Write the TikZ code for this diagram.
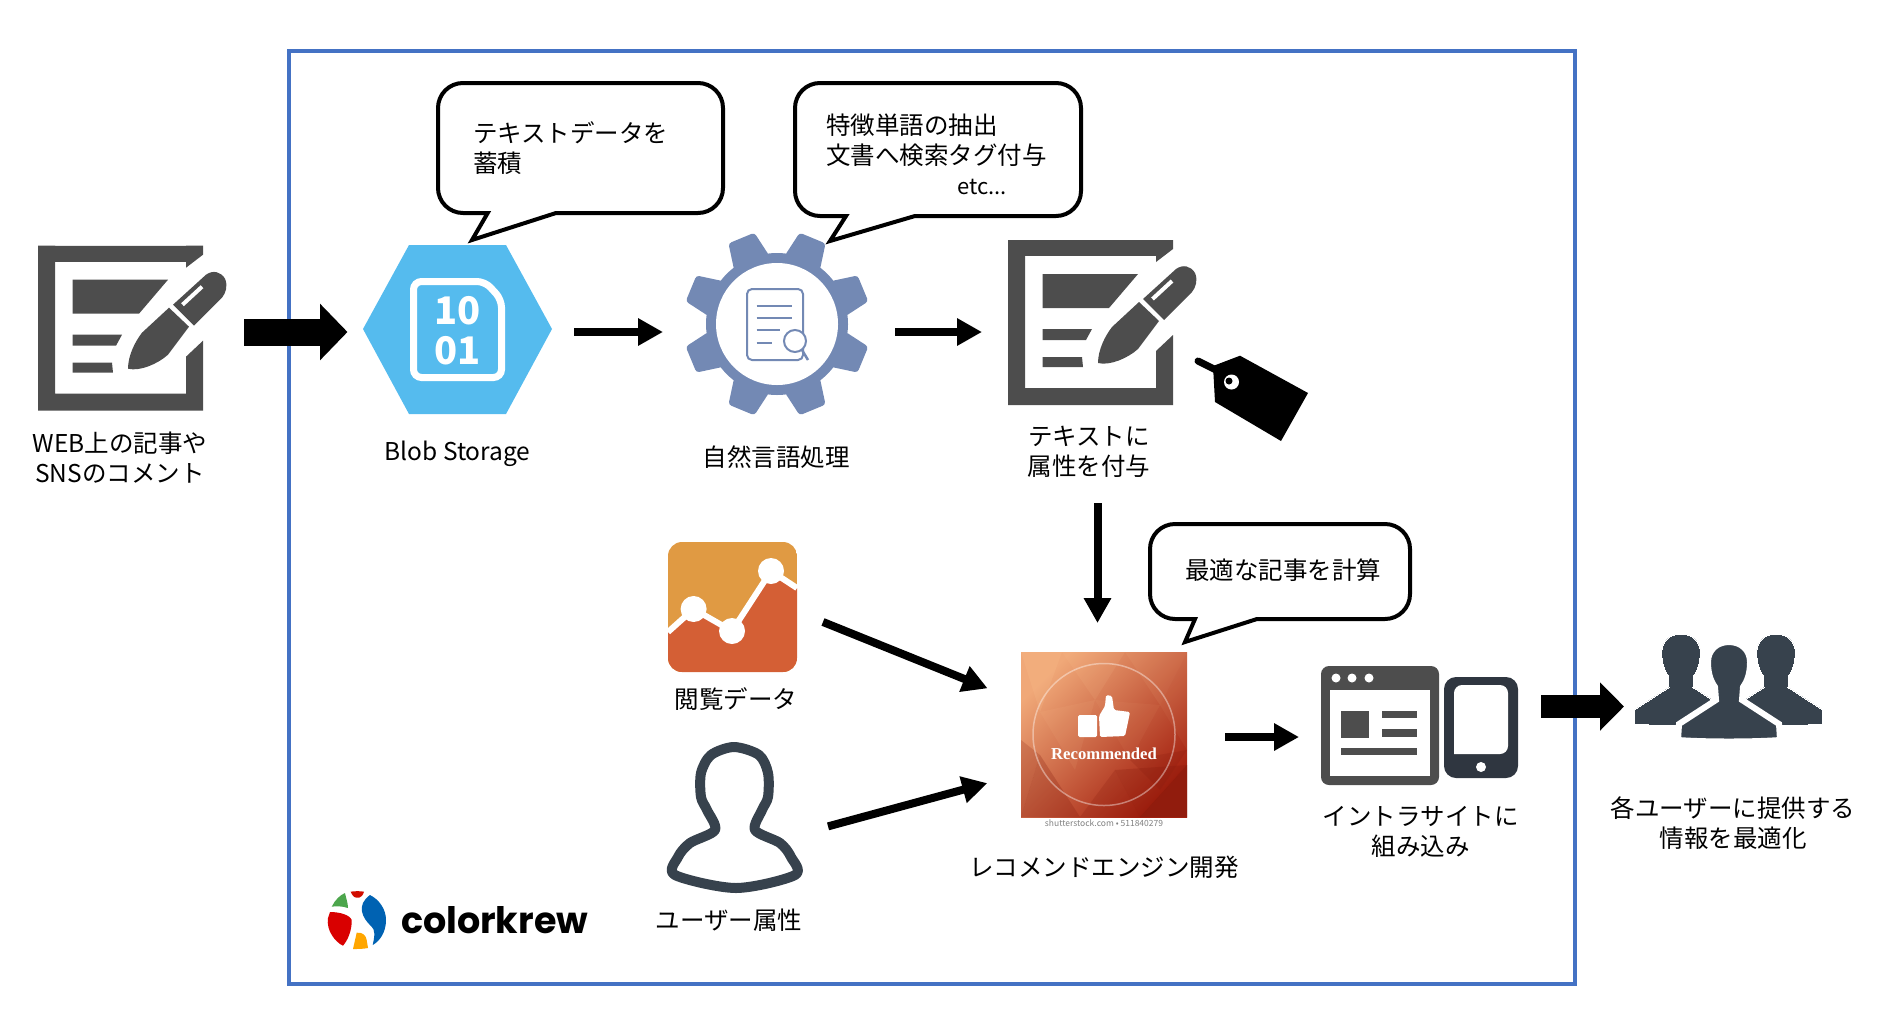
\documentclass[tikz,border=0pt]{standalone}
\usepackage{fontspec}
\setmainfont{Noto Sans CJK JP}
\newfontfamily\logofont{Poppins}
\newfontfamily\photofont{Liberation Serif}
\usetikzlibrary{arrows.meta}

\definecolor{frameblue}{HTML}{4472C4}
\definecolor{icongray}{HTML}{4D4D4D}
\definecolor{hexblue}{HTML}{55BBEE}
\definecolor{gearblue}{HTML}{7389B4}
\definecolor{gaorange}{HTML}{E09A43}
\definecolor{gared}{HTML}{D45F35}
\definecolor{slate}{HTML}{37424D}
\definecolor{phonegray}{HTML}{2F3640}
\definecolor{photolight}{HTML}{F0A878}
\definecolor{photomid}{HTML}{E0623C}
\definecolor{photodark}{HTML}{A4200F}

\tikzset{
noteicon/.pic={
	\fill[icongray] (0,0) -- (165,0) -- (165,9) -- (148,22) -- (148,0) -- (17,0) -- (17,148) -- (148,148) -- (148,111) -- (165,95) -- (165,165) -- (0,165) -- cycle;
	\fill[icongray] (17,0) rectangle (148,16);
	\fill[icongray] (34.5,34) -- (130,34) -- (101,68) -- (34.5,68) -- cycle;
	\fill[icongray] (34.5,89) -- (84,89) -- (78,100) -- (34.5,100) -- cycle;
	\fill[icongray] (34.5,117) -- (74,117) -- (75,127) -- (34.5,127) -- cycle;
	\fill[icongray] (90,123) .. controls (90,110) and (97,96) .. (104,87) -- (131,62) -- (151,81) -- (130,109) .. controls (120,118) and (102,126) .. (90,123) -- cycle;
	\fill[icongray] (135,59) -- (168,29) .. controls (175,24) and (183,26) .. (187,33) .. controls (190,40) and (188,47) .. (184,52) -- (156,80) -- cycle;
	\draw[white,line width=4] (144.5,59) -- (164,41);
},
person/.pic={
	\filldraw[slate,draw=white,line width=#1] (-51,98) -- (-50,82) -- (-13,58) -- (-14,45) .. controls (-19,38) and (-21,30) .. (-21,20) .. controls (-21,8) and (-12,0) .. (0,0) .. controls (12,0) and (21,8) .. (21,20) .. controls (21,30) and (19,38) .. (14,45) -- (13,58) -- (50,82) -- (51,98) .. controls (25,100) and (-25,100) .. cycle;
}
}

\begin{document}
\begin{tikzpicture}[x=1pt,y=-1pt]

\tikzstyle{lab} = [font=\fontsize{24.5}{30}\selectfont, align=center, inner sep=0pt]
\tikzstyle{box} = [inner sep=0pt, outer sep=0pt]
\tikzstyle{bub} = [draw, line width=4pt, fill=white, line join=miter]
\tikzstyle{arr} = [line width=8pt, -{Triangle[length=25pt,width=26pt]}]
\tikzstyle{barr} = [line width=27pt, -{Triangle[length=27.5pt,width=55pt]}]

\useasboundingbox (0,0) rectangle (1886,1034);

\node[box, draw=frameblue, line width=4pt, minimum width=1286pt, minimum height=933pt] (frame) at (932,517.5) {};

% place holders for the icons
\node[box, minimum width=188pt, minimum height=165pt] (note1) at (132,332) {};
\node[box, minimum width=189pt, minimum height=169pt] (blob) at (457.5,332) {};
\node[box, minimum width=180pt, minimum height=180pt] (gear) at (777,332) {};
\node[box, minimum width=179pt, minimum height=165pt] (note2) at (1097.5,322.5) {};
\node[box, minimum width=129pt, minimum height=130pt] (ga) at (732.5,607) {};
\node[box, minimum width=133pt, minimum height=150pt] (user) at (735,817) {};
\node[box, minimum width=166pt, minimum height=170pt] (reco) at (1104,737) {};
\node[box, minimum width=197pt, minimum height=119pt] (site) at (1419.5,706.5) {};
\node[box, minimum width=185pt, minimum height=106pt] (users) at (1728.5,706.5) {};

% writing icons and tag
\pic at (38,245.7) {noteicon};
\pic at (1008,240) {noteicon};
\fill (1213,366) -- (1240,355.7) -- (1308,393) -- (1281,441) -- (1215,402) -- cycle;
\draw[line width=7pt, line cap=round] (1198,361) -- (1216,370);
\fill[white] (1231.5,382) circle (7.5);
\fill (1229,381) circle (3.5);

% blob storage
\fill[hexblue] (363,329) -- (409,245) -- (506,245) -- (552,329) -- (506,414) -- (409,414) -- cycle;
\draw[white, line width=7pt, rounded corners=8] (413.5,281.5) -- (485,281.5) -- (501.5,299.5) -- (501.5,377.5) -- (413.5,377.5) -- cycle;
\node[box, text=white, font=\fontsize{38}{38}\selectfont\bfseries] (ten) at (457.5,311) {10};
\node[box, text=white, font=\fontsize{38}{38}\selectfont\bfseries] (one) at (457.5,351) {01};

% gear
\begin{scope}[shift={(777,324)}]
\foreach \a in {22.5,67.5,...,337.5}{
	\fill[gearblue, rotate=\a, rounded corners=3] (66,-19) -- (93,-14) -- (93,14) -- (66,19) -- cycle;
}
\fill[gearblue] (0,0) circle (71);
\fill[white] (0,0) circle (61);
\end{scope}
\draw[gearblue, line width=2pt, rounded corners=5] (747,289) rectangle (803,360);
\foreach \y/\e in {306/792,318/792,330/780,343/772}{
	\draw[gearblue, line width=2pt] (756.6,\y) -- (\e,\y);
}
\draw[gearblue, line width=2pt, fill=white] (795,341) circle (11);
\draw[gearblue, line width=2.5pt] (802,350) -- (808,360);

% analytics
\begin{scope}
\clip[rounded corners=14] (668,542) rectangle (797,672);
\fill[gaorange] (668,542) rectangle (797,672);
\fill[gared] (668,632) -- (693.6,609) -- (732,631) -- (771,571) -- (797,588) -- (797,672) -- (668,672) -- cycle;
\draw[white, line width=6pt] (668,632) -- (693.6,609) -- (732,631) -- (771,571) -- (797,588);
\foreach \p in {(693.6,609),(732,631),(771,571)}{
	\fill[white] \p circle (13);
}
\end{scope}

% user outline
\draw[slate, line width=10pt, line join=round] plot[smooth cycle, tension=0.5] coordinates {(675,875) (678,857) (690,843) (715,830) (707,810) (701,797) (701,773) (711,755) (734,747) (759,755) (768,773) (768,797) (762,810) (755,830) (780,843) (791,857) (795,875) (736,888)};

% recommended picture
\begin{scope}
\clip (1021,652) rectangle (1187,817);
\shade[top color=photolight, middle color=photomid, bottom color=photodark, shading angle=45] (1021,652) rectangle (1187,817);
\foreach \xa/\ya/\xb/\yb/\xc/\yc/\o in {1021/652/1062/652/1040/712/0.15, 1062/652/1125/652/1095/700/0.10, 1125/652/1187/652/1160/705/0.08, 1040/712/1095/700/1075/770/0.08, 1095/700/1160/705/1130/760/0.05, 1160/705/1187/652/1187/750/0.05}{
	\fill[orange!40!white, opacity=\o] (\xa,\ya) -- (\xb,\yb) -- (\xc,\yc) -- cycle;
}
\foreach \xa/\ya/\xb/\yb/\xc/\yc/\o in {1021/817/1080/817/1040/755/0.25, 1080/817/1140/817/1115/770/0.20, 1140/817/1187/817/1187/765/0.55, 1115/770/1187/765/1140/817/0.25, 1021/740/1040/755/1021/817/0.20, 1130/760/1187/750/1160/790/0.20}{
	\fill[photodark!80!black, opacity=\o] (\xa,\ya) -- (\xb,\yb) -- (\xc,\yc) -- cycle;
}
\end{scope}
\draw[white, opacity=0.4, line width=1.5pt] (1104,734.5) circle (71);
\fill[white, rounded corners=1.5] (1078,715) rectangle (1097,737);
\fill[white, rounded corners=1.5] (1099,716) -- (1105,706) -- (1106,695) -- (1112,696) -- (1114,710) -- (1130,712) -- (1128,722) -- (1125,736) -- (1100,737) -- cycle;
\node[box, text=white, font=\photofont\fontsize{16.7}{17}\selectfont\bfseries] (recotext) at (1104,754) {Recommended};
\node[box, text=gray, font=\fontsize{8.5}{9}\selectfont] (stock) at (1104,823) {shutterstock.com • 511840279};

% browser and phone
\fill[icongray, rounded corners=8] (1321,666) rectangle (1439,785);
\fill[white] (1330,690) rectangle (1430,776);
\foreach \x in {1336,1352,1369}{
	\fill[white] (\x,678) circle (4.5);
}
\fill[icongray] (1341,711) rectangle (1369,738);
\fill[icongray] (1382,711) rectangle (1417,718);
\fill[icongray] (1382,729) rectangle (1417,737);
\fill[icongray] (1341,748) rectangle (1417,755);
\fill[phonegray, rounded corners=12] (1444,677) rectangle (1518,778);
\fill[white, rounded corners=8] (1454,754) -- (1454,685) -- (1508,685) -- (1508,754) [sharp corners] -- cycle;
\fill[white] (1481,767) circle (5);

% three users
\pic[scale=0.92] at (1681,634) {person=0pt};
\pic[scale=0.92] at (1776,634) {person=0pt};
\pic at (1729,642) {person=6pt};

% logo
\fill[red!80!black!90!orange] (350.7,891.7) .. controls (354,891) and (361,891) .. (364,891.7) .. controls (363,896) and (360,898) .. (357.3,897.7) .. controls (354,898) and (352,895) .. (350.7,891.7) -- cycle;
\fill[green!50!black!70!white] (331.7,906.7) .. controls (335,900) and (340,895) .. (345,893) .. controls (346,898) and (348,903) .. (348,908) .. controls (342,906) and (336,906) .. (331.7,906.7) -- cycle;
\fill[blue!45!cyan!70!black] (370,895) .. controls (380,900) and (386,910) .. (386,920) .. controls (386,932) and (380,941) .. (372.7,945) .. controls (375,935) and (375,930) .. (371.7,926.7) .. controls (362,918) and (356,905) .. (370,895) -- cycle;
\fill[red!85!black] (330,912) .. controls (340,912) and (350,915) .. (351.7,920) .. controls (352,930) and (348,940) .. (343,945.7) .. controls (335,942) and (326,930) .. (328,918) -- cycle;
\fill[orange!70!yellow] (356.7,932.7) .. controls (362,932) and (366,935) .. (366.7,940) -- (368,948) .. controls (363,949) and (358,949) .. (353,949) -- cycle;
\node[box, font=\logofont\fontsize{36.5}{37}\selectfont\bfseries, anchor=west] (logo) at (401,920) {colorkrew};

% labels
\node[lab] (note1lab) at (120,458) {WEB上の記事や\\SNSのコメント};
\node[lab] (bloblab) at (457.5,454) {Blob Storage};
\node[lab] (gearlab) at (776,457) {自然言語処理};
\node[lab] (note2lab) at (1089,452) {テキストに\\属性を付与};
\node[lab] (galab) at (736,699) {閲覧データ};
\node[lab] (userlab) at (729,920) {ユーザー属性};
\node[lab] (recolab) at (1104,867) {レコメンドエンジン開発};
\node[lab] (sitelab) at (1420.5,832) {イントラサイトに\\組み込み};
\node[lab] (userslab) at (1733,823) {各ユーザーに提供する\\情報を最適化};

% bubbles
\draw[bub] (487.7,213) -- (472,240) -- (556,213) [rounded corners=25] -- (723,213) -- (723,83) -- (438,83) -- (438,213) [sharp corners] -- cycle;
\draw[bub] (846,216) -- (830,241) -- (915,216) [rounded corners=25] -- (1081,216) -- (1081,83) -- (795,83) -- (795,216) [sharp corners] -- cycle;
\draw[bub] (1195,619) -- (1185,642) -- (1257,619) [rounded corners=25] -- (1410,619) -- (1410,524) -- (1150,524) -- (1150,619) [sharp corners] -- cycle;
\node[lab, anchor=west, align=left] (store) at (473,148) {テキストデータを\\蓄積};
\node[lab, anchor=west, align=left] (extract) at (826,140) {特徴単語の抽出\\文書へ検索タグ付与};
\node[box, font=\fontsize{22}{22}\selectfont] (etc) at (982,186.5) {etc...};
\node[lab] (best) at (1283,570) {最適な記事を計算};

% arrows
\draw[barr, shorten <=18pt, shorten >=15.5pt] (note1.east) -- (blob.west);
\draw[arr, shorten <=22pt, shorten >=24pt] (blob.east) -- (gear.west);
\draw[arr, shorten <=28pt, shorten >=26pt] (gear.east) -- (gear.east -| note2.west);
\draw[arr, shorten <=98pt, shorten >=29pt] (note2.south) -- (note2.south |- reco.north);
\draw[arr, shorten <=28pt, shorten >=36pt] (ga.-4) -- (reco.157);
\draw[arr, shorten <=27.5pt, shorten >=35pt] (user.-14) -- (reco.204);
\draw[arr, shorten <=38pt, shorten >=22pt] (reco.east) -- (reco.east -| site.west);
\draw[barr, line width=23pt, -{Triangle[length=24pt,width=47pt]}, shorten <=23pt, shorten >=12pt] (site.east) -- (users.west);

\end{tikzpicture}
\end{document}
